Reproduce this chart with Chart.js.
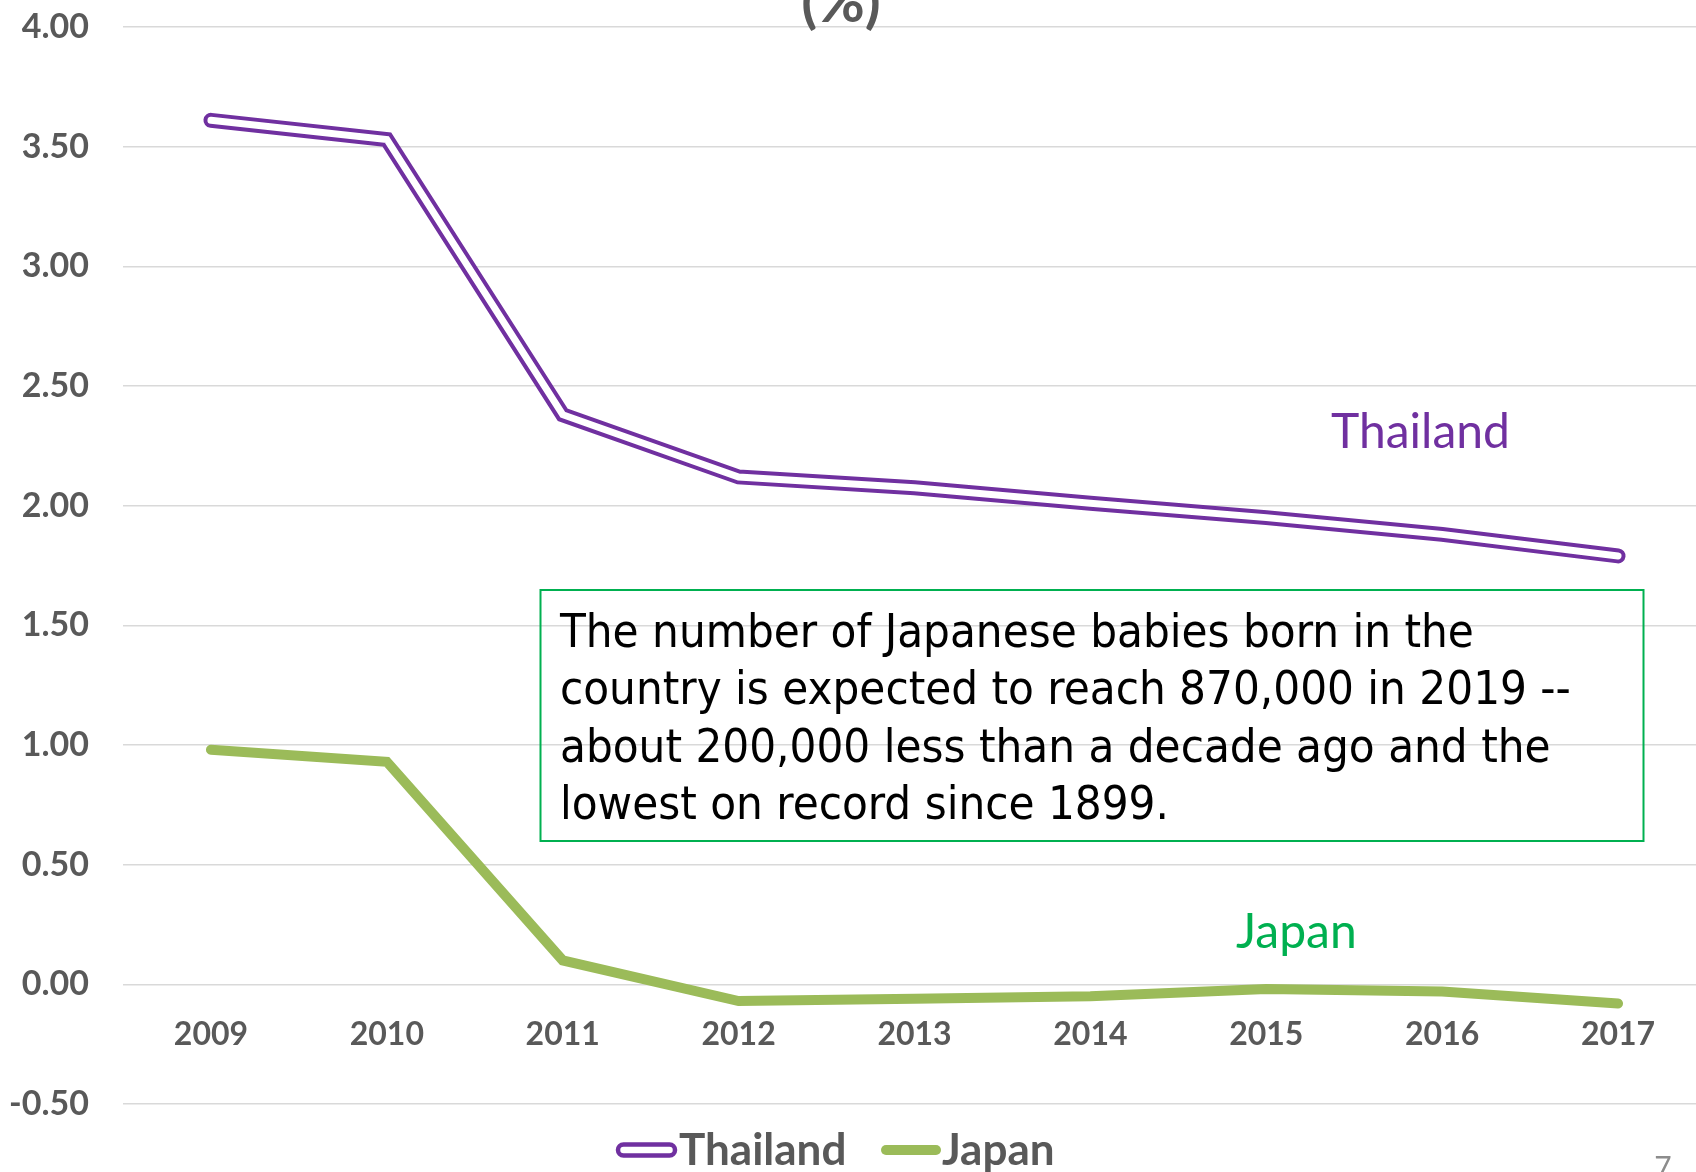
<!DOCTYPE html>
<html>
<head>
<meta charset="utf-8">
<script src="https://cdn.jsdelivr.net/npm/chart.js@4.4.1/dist/chart.umd.min.js"></script>
<style>
  html, body { margin: 0; padding: 0; background: #ffffff; width: 1696px; height: 1172px; overflow: hidden; }
  #wrap { position: absolute; left: 0; top: 0; }
  canvas { display: block; }
</style>
</head>
<body>
<div id="wrap"><canvas id="growth" width="1706" height="1172"></canvas></div>
<script>
// Years on the category axis
const years = ['2009', '2010', '2011', '2012', '2013', '2014', '2015', '2016', '2017'];

// Growth rate, percent
const thailandValues = [3.61, 3.53, 2.38, 2.12, 2.075, 2.01, 1.95, 1.88, 1.79];
const japanValues = [0.98, 0.93, 0.10, -0.07, -0.06, -0.05, -0.02, -0.03, -0.08];

// Value axis range and tick step
const yMin = -0.5;
const yMax = 4;
const yStep = 0.5;

// Series names and the note shown in the plot
const seriesNames = ['Thailand', 'Japan'];
const noteLines = [
  'The number of Japanese babies born in the',
  'country is expected to reach 870,000 in 2019 --',
  'about 200,000 less than a decade ago and the',
  'lowest on record since 1899.'
];
const titleTail = '(%)';
const pageNumber = '7';

const PURPLE = '#7030A0';
const GREEN_LINE = '#9BBB59';
const GREEN_TEXT = '#00B050';
const AXIS_GREY = '#595959';

// Extra drawing: title tail, series labels, note box, legend and page number
const decorations = {
  id: 'decorations',
  afterDraw(chart) {
    const ctx = chart.ctx;
    ctx.save();

    // bottom of the slide title, running off the top edge
    ctx.fillStyle = AXIS_GREY;
    ctx.font = 'bold 58px Lato';
    ctx.textAlign = 'center';
    ctx.textBaseline = 'alphabetic';
    ctx.fillText(titleTail, 841, 22);

    // series labels beside the lines
    ctx.textAlign = 'left';
    ctx.font = '48px Lato';
    ctx.fillStyle = PURPLE;
    ctx.fillText(seriesNames[0], 1331, 448);
    ctx.fillStyle = GREEN_TEXT;
    ctx.fillText(seriesNames[1], 1236, 948);

    // note box
    ctx.strokeStyle = GREEN_TEXT;
    ctx.lineWidth = 2;
    ctx.strokeRect(540.5, 590, 1103, 251);
    ctx.fillStyle = '#000000';
    ctx.font = '47px "DejaVu Sans Condensed", "DejaVu Sans"';
    noteLines.forEach((line, i) => ctx.fillText(line, 560, 647 + i * 57.3));

    // legend
    const legendY = 1150;
    ctx.font = 'bold 44px Lato';
    ctx.textBaseline = 'alphabetic';
    // Thailand: outlined bar
    ctx.beginPath();
    ctx.roundRect(618, legendY - 5.5, 57, 11, 5.5);
    ctx.fillStyle = '#ffffff';
    ctx.fill();
    ctx.lineWidth = 4.5;
    ctx.strokeStyle = PURPLE;
    ctx.stroke();
    ctx.fillStyle = AXIS_GREY;
    ctx.fillText(seriesNames[0], 679, 1165);
    // Japan: solid bar
    ctx.beginPath();
    ctx.roundRect(881, legendY - 5, 60, 10, 5);
    ctx.fillStyle = GREEN_LINE;
    ctx.fill();
    ctx.fillStyle = AXIS_GREY;
    ctx.fillText(seriesNames[1], 942, 1165);

    // page number, cut by the bottom edge
    ctx.fillStyle = '#8C8C8C';
    ctx.font = '30px Lato';
    ctx.textAlign = 'center';
    ctx.fillText(pageNumber, 1663, 1178);

    ctx.restore();
  }
};

new Chart(document.getElementById('growth'), {
  type: 'line',
  data: {
    labels: years,
    datasets: [
      {
        label: seriesNames[0] + ' inner',
        data: thailandValues,
        borderColor: '#ffffff',
        borderWidth: 7,
        borderCapStyle: 'round',
        borderJoinStyle: 'miter',
        pointRadius: 0,
        tension: 0,
        order: 0
      },
      {
        label: seriesNames[0],
        data: thailandValues,
        borderColor: PURPLE,
        borderWidth: 15,
        borderCapStyle: 'round',
        borderJoinStyle: 'miter',
        pointRadius: 0,
        tension: 0,
        order: 1
      },
      {
        label: seriesNames[1],
        data: japanValues,
        borderColor: GREEN_LINE,
        borderWidth: 10,
        borderCapStyle: 'round',
        borderJoinStyle: 'miter',
        pointRadius: 0,
        tension: 0,
        order: 2
      }
    ]
  },
  options: {
    responsive: false,
    animation: false,
    events: [],
    layout: { padding: { top: 27, bottom: 68, left: 0, right: 0 } },
    plugins: {
      legend: { display: false },
      tooltip: { enabled: false },
      title: { display: false }
    },
    scales: {
      x: {
        type: 'category',
        position: { y: 0 },
        offset: true,
        grid: { display: false, drawTicks: false },
        border: { display: false },
        ticks: {
          color: AXIS_GREY,
          font: { family: 'Lato', weight: 'bold', size: 32 },
          padding: 31,
          maxRotation: 0,
          autoSkip: false
        }
      },
      y: {
        min: yMin,
        max: yMax,
        grid: {
          color: '#D9D9D9',
          lineWidth: 1.5,
          drawTicks: true,
          tickLength: 34,
          tickColor: 'rgba(0,0,0,0)'
        },
        border: { display: false },
        ticks: {
          stepSize: yStep,
          color: AXIS_GREY,
          font: { family: 'Lato', weight: 'bold', size: 34 },
          padding: 0,
          callback: (v) => Number(v).toFixed(2)
        },
        afterFit(scale) { scale.width = 123; }
      }
    }
  },
  plugins: [decorations]
});
</script>
</body>
</html>
